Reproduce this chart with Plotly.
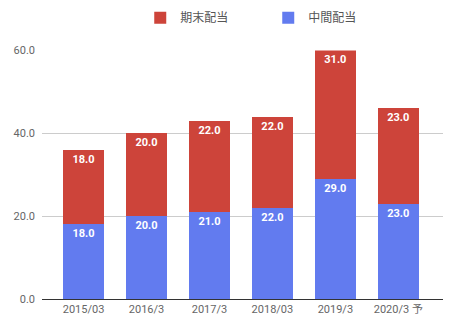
import plotly.graph_objects as go

categories = ["2015/03", "2016/3", "2017/3", "2018/03", "2019/3", "2020/3 予"]
interim = [18.0, 20.0, 21.0, 22.0, 29.0, 23.0]
year_end = [18.0, 20.0, 22.0, 22.0, 31.0, 23.0]
y_ticks = [0, 20, 40, 60]
y_tick_labels = ["0.0", "20.0", "40.0", "60.0"]

RED = "#CD443A"
BLUE = "#627BEF"
FONT = "Roboto, 'Noto Sans CJK JP', sans-serif"

fig = go.Figure()
fig.add_trace(go.Bar(
    x=categories, y=interim, name="中間配当", marker=dict(color=BLUE, line=dict(width=0)),
    texttemplate="%{y:.1f}", textposition="inside", insidetextanchor="end",
    textfont=dict(color="white", size=11, family=FONT, weight="bold"),
    textangle=0, legendrank=2,
))
fig.add_trace(go.Bar(
    x=categories, y=year_end, name="期末配当", marker=dict(color=RED, line=dict(width=0)),
    texttemplate="%{y:.1f}", textposition="inside", insidetextanchor="end",
    textfont=dict(color="white", size=11, family=FONT, weight="bold"),
    textangle=0, legendrank=1,
))

fig.update_layout(
    barmode="stack",
    bargap=0.35,
    width=456, height=331,
    margin=dict(l=42, r=13, t=42, b=32),
    paper_bgcolor="white", plot_bgcolor="white",
    font=dict(family=FONT, size=11, color="#666666"),
    legend=dict(orientation="h", x=0.245, xanchor="left", y=0.99, yanchor="top",
                yref="container", font=dict(size=12, color="#555555"),
                traceorder="normal", entrywidth=83, entrywidthmode="pixels"),
    uniformtext=dict(minsize=8, mode="show"),
    showlegend=True,
)
fig.update_xaxes(
    range=[-0.66, 5.71], showgrid=False, showline=True, linecolor="#333333", linewidth=1,
    ticks="", tickfont=dict(size=11, color="#666666"), fixedrange=True,
)
fig.update_yaxes(
    range=[0, 60], tickvals=y_ticks, ticktext=y_tick_labels, showgrid=True,
    gridcolor="#CCCCCC", gridwidth=1, zeroline=False, showline=False,
    tickfont=dict(size=11, color="#666666"), ticklabelstandoff=6,
)

fig.write_html("out.html")
